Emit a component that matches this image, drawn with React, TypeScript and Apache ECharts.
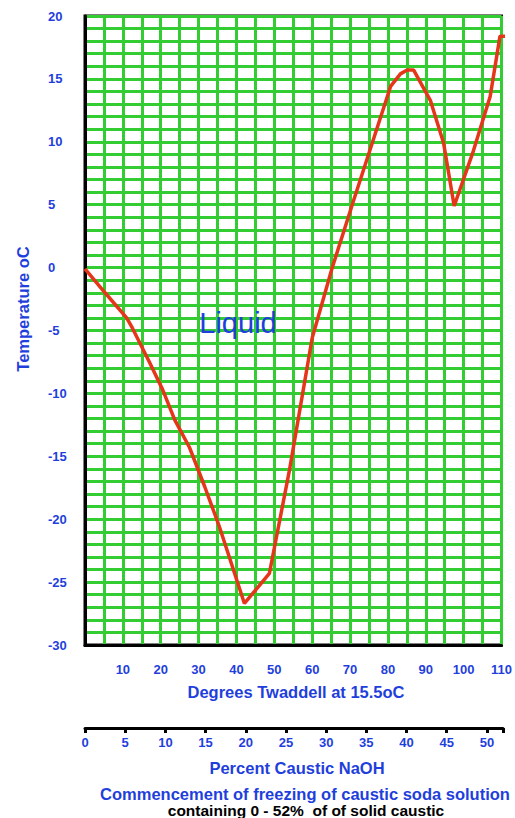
import React, { useEffect, useRef } from "react";
import * as echarts from "echarts";

// Degrees Twaddell at 15.5oC
const twaddell = [0, 5.3, 11, 12.5, 17, 20.5, 23.7, 27.6, 31.6, 35.5, 42.1, 48.7, 54, 60, 65.3, 71, 80.7, 83.3, 85.1, 86.8, 91.2, 94.7, 97.5, 102.6, 107, 109.6, 111];
// Temperature oC at commencement of freezing
const temperature = [-0.1, -2.0, -4.0, -4.8, -7.5, -9.7, -12.1, -14.3, -17.4, -20.6, -26.7, -24.3, -16.1, -5.6, 0, 5.4, 14.4, 15.4, 15.7, 15.7, 13.3, 9.9, 4.9, 9.3, 13.6, 18.4, 18.4];

const yTicks = [-30, -25, -20, -15, -10, -5, 0, 5, 10, 15, 20];
const percentTicks = [0, 5, 10, 15, 20, 25, 30, 35, 40, 45, 50];
const percentTickMarks = [0, 5, 10, 15, 20, 25, 30, 35, 40, 45, 50, 52];

const BLUE = "#1f3fdc";
const GREEN = "#33cc33";
const RED = "#e5361a";
const FONT = "Liberation Sans, Arial, Helvetica, sans-serif";

export default function App() {
  const ref = useRef<HTMLDivElement>(null);
  useEffect(() => {
    if (!ref.current) return;
    const chart = echarts.init(ref.current, null, { renderer: "svg" });
    const data = twaddell.map((t, i) => [t, temperature[i]]);
    const tickFont = { color: BLUE, fontWeight: "bold", fontSize: 13, fontFamily: FONT };
    chart.setOption({
      animation: false,
      backgroundColor: "#ffffff",
      grid: [
        { left: 85, top: 16, width: 418, height: 629, show: true, borderColor: "#000", borderWidth: 3, backgroundColor: "transparent" },
        { left: 85, top: 727, width: 418, height: 1, show: false },
      ],
      xAxis: [
        {
          gridIndex: 0,
          type: "value",
          min: 0,
          max: 110,
          interval: 10,
          axisLine: { show: true, onZero: false, lineStyle: { color: "#000", width: 3 } },
          axisTick: { show: false },
          axisLabel: {
            ...tickFont,
            margin: 18,
            formatter: (v: number) => (v === 0 ? "" : String(v)),
          },
          splitLine: { show: true, lineStyle: { color: GREEN, width: 3 } },
          minorTick: { show: false, splitNumber: 2 },
          minorSplitLine: { show: true, lineStyle: { color: GREEN, width: 3 } },
        },
        {
          gridIndex: 1,
          type: "value",
          min: 0,
          max: 52,
          interval: 5,
          axisLine: { show: true, onZero: false, lineStyle: { color: "#000", width: 3 } },
          axisTick: { show: true, length: 5, customValues: percentTickMarks, lineStyle: { color: "#000", width: 3 } },
          axisLabel: {
            ...tickFont,
            margin: 8,
            customValues: percentTicks,
          },
          splitLine: { show: false },
        },
      ],
      yAxis: [
        {
          gridIndex: 0,
          type: "value",
          min: -30,
          max: 20,
          interval: 5,
          axisLine: { show: true, onZero: false, lineStyle: { color: "#000", width: 3 } },
          axisTick: { show: false },
          axisLabel: {
            ...tickFont,
            align: "left",
            margin: 37,
            customValues: yTicks,
          },
          splitLine: { show: true, lineStyle: { color: GREEN, width: 3 } },
          minorTick: { show: false, splitNumber: 5 },
          minorSplitLine: { show: true, lineStyle: { color: GREEN, width: 3 } },
        },
        { gridIndex: 1, type: "value", show: false, min: 0, max: 1 },
      ],
      series: [
        {
          type: "line",
          xAxisIndex: 0,
          yAxisIndex: 0,
          data,
          symbol: "none",
          clip: false,
          lineStyle: { color: RED, width: 3.5 },
          z: 5,
        },
      ],
      graphic: [
        {
          type: "text",
          x: 23,
          y: 309,
          rotation: Math.PI / 2,
          style: { text: "Temperature oC", fill: BLUE, font: `bold 16.5px ${FONT}`, align: "center", verticalAlign: "middle" },
        },
        {
          type: "text",
          x: 238,
          y: 323,
          z: 10,
          style: { text: "Liquid", fill: BLUE, font: `29px ${FONT}`, align: "center", verticalAlign: "middle" },
        },
        {
          type: "text",
          x: 296,
          y: 692,
          style: { text: "Degrees Twaddell at 15.5oC", fill: BLUE, font: `bold 16.5px ${FONT}`, align: "center", verticalAlign: "middle" },
        },
        {
          type: "text",
          x: 297,
          y: 768,
          style: { text: "Percent Caustic NaOH", fill: BLUE, font: `bold 16.5px ${FONT}`, align: "center", verticalAlign: "middle" },
        },
        {
          type: "text",
          x: 305,
          y: 794,
          style: { text: "Commencement of freezing of caustic soda solution", fill: BLUE, font: `bold 16.5px ${FONT}`, align: "center", verticalAlign: "middle" },
        },
        {
          type: "text",
          x: 306,
          y: 810.5,
          style: { text: "containing 0 - 52%  of of solid caustic", fill: "#000", font: `bold 15.5px ${FONT}`, align: "center", verticalAlign: "middle" },
        },
      ],
    });
    return () => chart.dispose();
  }, []);
  return <div ref={ref} style={{ position: "fixed", left: 0, top: 0, width: 515, height: 818 }} />;
}
